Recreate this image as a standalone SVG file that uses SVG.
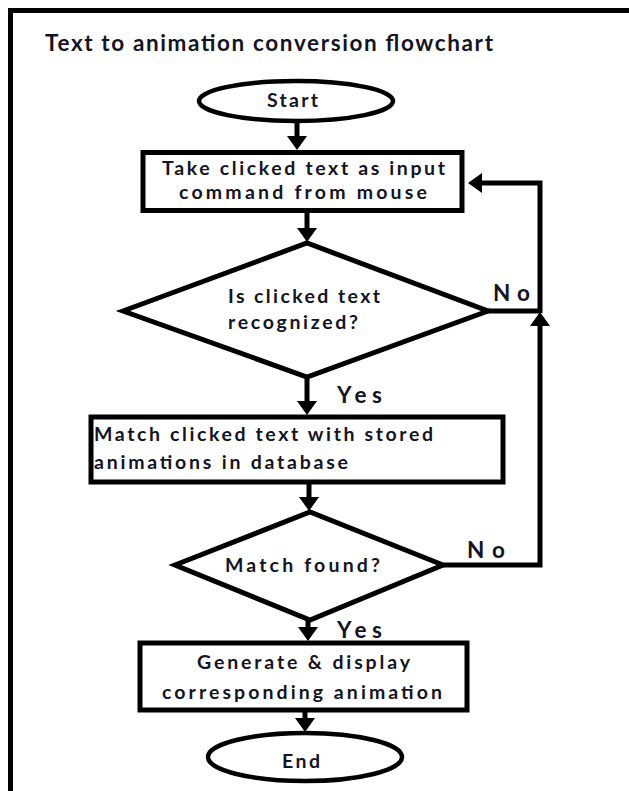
<svg xmlns="http://www.w3.org/2000/svg" width="629" height="791" viewBox="0 0 629 791">
  <style>
    text { font-family: Lato, "Open Sans", "Liberation Sans", sans-serif; font-weight: bold; fill: #141424; }
    .t { font-size: 19.5px; }
    .lbl { font-size: 22.5px; }
    .title { font-size: 22.5px; }
    .shape { fill: #fff; stroke: #000; stroke-width: 5; }
    .oval { fill: #fff; stroke: #000; stroke-width: 4.5; }
    .conn { fill: none; stroke: #000; stroke-width: 5; }
    .arrow { marker-end: url(#ah); }
  </style>
  <defs>
    <!-- filled arrowhead; its base sits at the end of the line -->
    <marker id="ah" markerUnits="userSpaceOnUse" markerWidth="16" markerHeight="22" viewBox="-1 -11 16 22" refX="0" refY="0" orient="auto">
      <path d="M0,-10 L14,0 L0,10 z" fill="#000"/>
    </marker>
  </defs>

  <rect width="629" height="791" fill="#fff"/>
  <!-- page frame -->
  <path d="M10.5,791 V10.5 H629" fill="none" stroke="#000" stroke-width="5"/>

  <text class="title" x="45" y="51" textLength="448">Text to animation conversion  flowchart</text>

  <g id="start">
    <ellipse class="oval" cx="296" cy="101" rx="97" ry="20"/>
    <text class="t" x="267" y="107" textLength="51">Start</text>
  </g>

  <g id="take-input">
    <rect class="shape" x="143" y="152.5" width="319" height="58"/>
    <text class="t" x="162" y="175" textLength="283">Take clicked text as input</text>
    <text class="t" x="179" y="199" textLength="248">command from mouse</text>
  </g>

  <g id="recognized">
    <polygon class="shape" points="123,311 307,243 488,311 307,377"/>
    <text class="t" x="228" y="303" textLength="152">Is clicked text</text>
    <text class="t" x="228" y="329" textLength="130">recognized?</text>
  </g>

  <g id="match-db">
    <rect class="shape" x="91" y="417" width="412" height="65"/>
    <text class="t" x="94" y="441" textLength="339">Match clicked text with stored</text>
    <text class="t" x="94" y="469" textLength="254">animations in database</text>
  </g>

  <g id="match-found">
    <polygon class="shape" points="175,565 310,512 443,565 310,620"/>
    <text class="t" x="225" y="572" textLength="155">Match found?</text>
  </g>

  <g id="generate">
    <rect class="shape" x="140" y="643" width="327" height="67"/>
    <text class="t" x="197" y="669" textLength="213">Generate &amp; display</text>
    <text class="t" x="162" y="699" textLength="280">corresponding animation</text>
  </g>

  <g id="end">
    <ellipse class="oval" cx="305" cy="757" rx="97" ry="24"/>
    <text class="t" x="282" y="768" textLength="38">End</text>
  </g>

  <g id="connectors">
    <path class="conn arrow" d="M297,121 V136"/>
    <path class="conn arrow" d="M307,213 V228"/>
    <path class="conn arrow" d="M307,377 V401"/>
    <path class="conn arrow" d="M309,484 V497"/>
    <path class="conn arrow" d="M308,620 V627"/>
    <path class="conn arrow" d="M305,712 V718"/>
    <!-- "No" branches feed back into the input step -->
    <path class="conn" d="M488,311 H540"/>
    <path class="conn arrow" d="M443,565 H540 V326"/>
    <path class="conn arrow" d="M540,313 V183 H482"/>
    <text class="lbl" x="337" y="403" textLength="45">Yes</text>
    <text class="lbl" x="337" y="638" textLength="45">Yes</text>
    <text class="lbl" x="493" y="301" textLength="37">No</text>
    <text class="lbl" x="467" y="558" textLength="38">No</text>
  </g>
</svg>
